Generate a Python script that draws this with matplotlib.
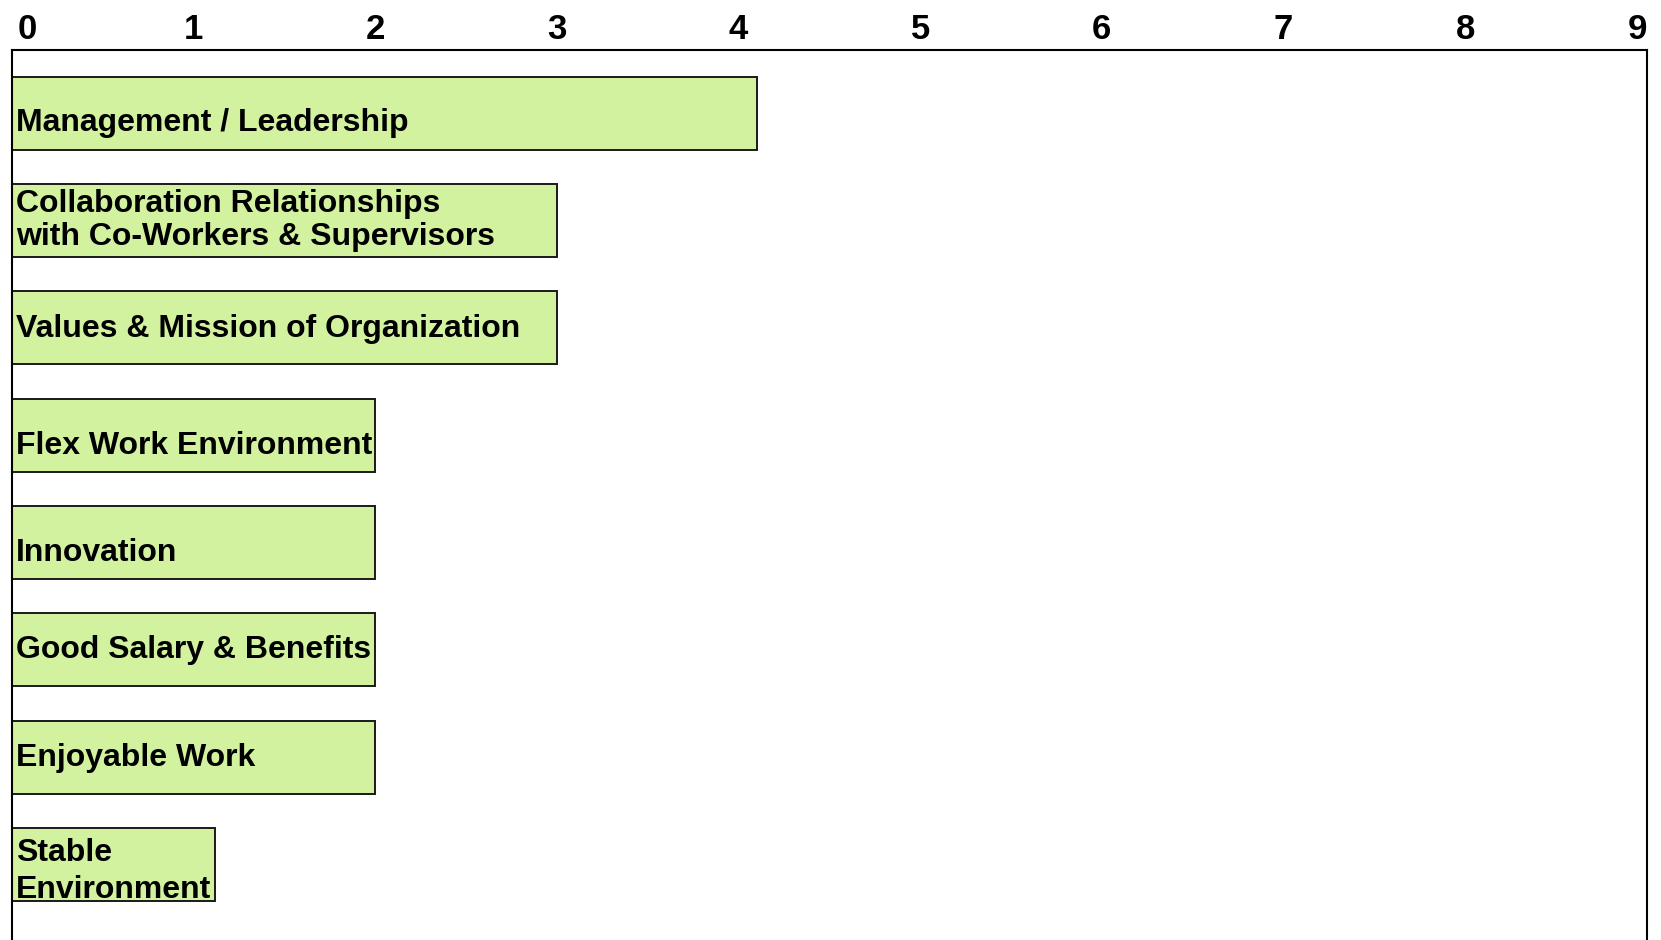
import matplotlib.pyplot as plt
from matplotlib.transforms import ScaledTranslation

plt.rcParams['font.family'] = ['Liberation Sans', 'DejaVu Sans']

# dados (de cima para baixo)
categorias = [
    "Management / Leadership",
    "Collaboration Relationships\nwith Co-Workers & Supervisors",
    "Values & Mission of Organization",
    "Flex Work Environment",
    "Innovation",
    "Good Salary & Benefits",
    "Enjoyable Work",
    "Stable\nEnvironment",
]
valores = [4.1, 3, 3, 2, 2, 2, 2, 1.12]
ticks_x = list(range(0, 10))

fig = plt.figure(figsize=(16.61, 9.40), dpi=100)
ax = fig.add_axes([11.5 / 1661, -20 / 940, (1647 - 11.5) / 1661, 910 / 940])

posicoes = list(range(len(categorias)))
barras = ax.barh(posicoes, valores, height=0.68, color='#d2f2a0',
                 edgecolor='#1a1a1a', linewidth=1.4)

# ajuste vertical dos rótulos (px, positivo = para baixo) e entrelinha
desloc = [10, 0, 1, 11, 10.5, 0, 1, 7]
entrelinha = [1.2, 1.1, 1.2, 1.2, 1.2, 1.2, 1.2, 1.28]
for pos, nome, barra, dy, ls in zip(posicoes, categorias, barras, desloc, entrelinha):
    t = ax.annotate(nome, xy=(0, pos), xytext=(3.5, -dy * 0.72),
                    textcoords='offset points', ha='left', va='center',
                    fontsize=23, fontweight='bold', color='black',
                    linespacing=ls)
    t.set_clip_path(barra)

ax.set_xlim(0, 9)
ax.set_ylim(7.889, -0.587)
ax.xaxis.tick_top()
ax.set_xticks(ticks_x)
ax.set_xticklabels([str(v) for v in ticks_x], fontsize=25, fontweight='bold')
ax.tick_params(axis='x', length=0, pad=3)
rotulos = ax.get_xticklabels()
rotulos[0].set_ha('left')
rotulos[0].set_transform(rotulos[0].get_transform() +
                         ScaledTranslation(6 / 100, 0, fig.dpi_scale_trans))
rotulos[-1].set_ha('right')
ax.set_yticks([])

for lado in ['top', 'left', 'right']:
    ax.spines[lado].set_linewidth(1.5)
    ax.spines[lado].set_color('black')
ax.spines['bottom'].set_visible(False)

fig.savefig('out.png', dpi=100)
